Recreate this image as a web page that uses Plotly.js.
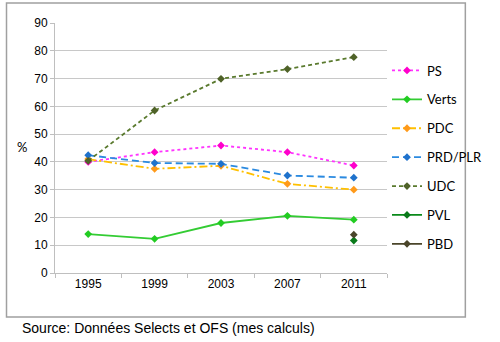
<!DOCTYPE html>
<html><head><meta charset="utf-8">
<script src="https://cdn.plot.ly/plotly-3.0.1.min.js"></script>
<style>html,body{margin:0;padding:0;background:#fff}#c{width:500px;height:342px}</style>
</head><body><div id="c"></div>
<script>
const years = ["1995","1999","2003","2007","2011"];
const ps   = [40.0, 43.5, 45.9, 43.5, 38.7];
const verts= [14.0, 12.3, 18.0, 20.6, 19.2];
const pdc  = [41.0, 37.5, 38.6, 32.1, 30.0];
const prd  = [42.4, 39.6, 39.3, 35.1, 34.3];
const udc  = [40.4, 58.5, 69.9, 73.4, 77.7];
const pvl  = [null, null, null, null, 11.7];
const pbd  = [null, null, null, null, 13.8];
const yTicks = [0,10,20,30,40,50,60,70,80,90];

function tr(name, y, lineColor, markerColor, dash, idx){
  return {x: years, y: y, name: name, type: 'scatter', mode: 'lines+markers',
    legendgroup: 'g'+idx,
    line: {color: lineColor, width: 1.8, dash: dash},
    marker: {symbol: 'diamond', size: 6, color: markerColor}};
}
const data = [
  tr('PS', ps, '#ff33ff', '#ff00cc', 'dot', 0),
  tr('Verts', verts, '#33cc33', '#22cc22', 'solid', 1),
  tr('PDC', pdc, '#ffc000', '#ff9a1a', '8px,3px,2px,3px', 2),
  tr('PRD/PLR', prd, '#2b8ae0', '#1f72cc', '7px,4px', 3),
  tr('UDC', udc, '#5a7a2e', '#4f6228', '4px,3px', 4),
  tr('PVL', pvl, '#0a8a1a', '#0a7a1a', 'solid', 5),
  tr('PBD', pbd, '#4a452a', '#4a452a', 'solid', 6)
];
const layout = {
  width: 500, height: 342,
  margin: {l: 55, r: 89, t: 23, b: 69},
  paper_bgcolor: '#fff', plot_bgcolor: '#fff',
  showlegend: true,
  legend: {x: 1.0, xanchor: 'left', y: 0.87, yanchor: 'top', tracegroupgap: 9,
    font: {family: 'Lato, sans-serif', size: 13, color: '#000'}, bgcolor: 'rgba(0,0,0,0)'},
  xaxis: {type: 'category', range: [-0.5, 4.5], tickson: 'boundaries', ticks: 'outside',
    ticklen: 4, tickcolor: '#bfbfbf', showgrid: false, showline: true, linecolor: '#bfbfbf',
    tickfont: {family: 'Liberation Sans, Arial', size: 12, color: '#000'}, fixedrange: true},
  yaxis: {range: [0, 90], tickvals: yTicks, ticks: 'outside', ticklen: 4, tickcolor: '#bfbfbf',
    showgrid: true, gridcolor: '#c8c8c8', gridwidth: 1, showline: true, linecolor: '#bfbfbf',
    zeroline: false, tickfont: {family: 'Liberation Sans, Arial', size: 12, color: '#000'}},
  shapes: [{type: 'rect', xref: 'paper', yref: 'paper', x0: -52/356, x1: 440/356,
    y0: -44/250, y1: 270/250, line: {color: '#a0a0a0', width: 1.5}}],
  annotations: [
    {text: '%', xref: 'paper', yref: 'paper', x: -43/356, y: (273-147)/250, showarrow: false,
     font: {family: 'Lato, sans-serif', size: 13, color: '#000'}},
    {text: 'Source: Données Selects et OFS (mes calculs)', xref: 'paper', yref: 'paper',
     x: -37/356, xanchor: 'left', y: (273-328)/250, yanchor: 'middle', showarrow: false,
     font: {family: 'Liberation Sans, Arial', size: 14, color: '#000'}}
  ]
};
Plotly.newPlot('c', data, layout, {displayModeBar: false, staticPlot: true});
</script></body></html>
